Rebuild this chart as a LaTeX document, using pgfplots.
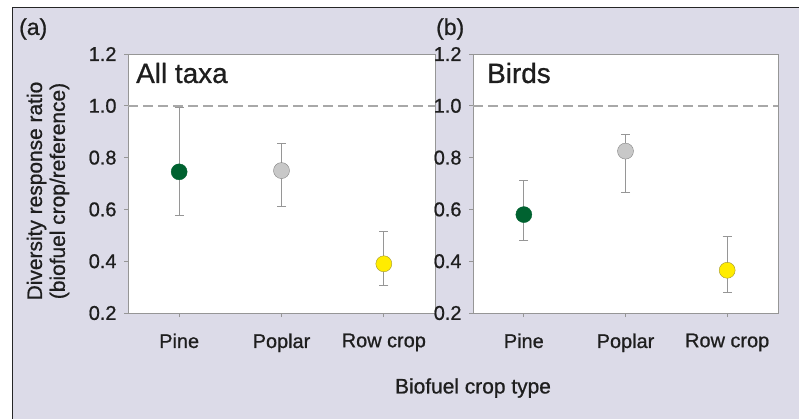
\documentclass[border=0pt]{standalone}
\usepackage{fontspec}
\setmainfont{Liberation Sans}[FakeBold=0.8]
\usepackage{pgfplots}
\pgfplotsset{compat=1.18}
\definecolor{bg}{RGB}{220,219,232}
\definecolor{axgray}{RGB}{150,150,150}
\definecolor{dashgray}{RGB}{168,168,168}
\definecolor{dkgreen}{RGB}{0,98,48}
\definecolor{ltgray}{RGB}{200,200,200}
\definecolor{mkgray}{RGB}{130,130,130}
\definecolor{yel}{RGB}{255,236,0}
\definecolor{yelout}{RGB}{160,150,50}
\definecolor{txt}{RGB}{30,30,30}
\pgfplotsset{
  panel/.style={
    scale only axis, height=259bp,
    xmin=-0.5, xmax=2.5, ymin=0.2, ymax=1.2,
    xtick={0,1,2}, xticklabels={Pine,Poplar,Row crop},
    ytick={0.2,0.4,0.6,0.8,1.0,1.2},
    yticklabel style={xshift=-4bp, /pgf/number format/.cd, fixed, fixed zerofill, precision=1},
    /pgf/number format/assume math mode=true,
    tick align=outside, tick pos=left,
    major tick length=4bp,
    every tick/.style={axgray, line width=0.8bp},
    axis line style={axgray, line width=1bp},
    axis background/.style={fill=white},
    font=\fontsize{20}{24}\selectfont,
    ticklabel style={font=\fontsize{20}{24}\selectfont, text=txt},
    xticklabel style={yshift=-13bp},
    clip=false,
  },
  pt/.style={only marks, mark=*, mark size=8bp,
    error bars/y dir=both, error bars/y explicit,
    error bars/error bar style={axgray, line width=1.1bp},
    error bars/error mark options={rotate=90, mark size=4.5bp, axgray, line width=1.1bp}},
}
\begin{document}
\begin{tikzpicture}[x=1bp,y=1bp]
\path[use as bounding box, fill=white] (0,0) rectangle (799,-419);
\fill[bg] (12,-7) rectangle (799,-419);
\draw[black!85, line width=1bp] (12,-419) -- (12,-7) -- (799,-7);
\begin{axis}[panel, width=307bp, at={(128bp,-54bp)}, anchor=north west]
\addplot[dashgray, line width=2bp, dash pattern=on 10bp off 5bp] coordinates {(-0.5,1) (2.5,1)};
\addplot[pt, mark options={fill=dkgreen, draw=dkgreen}] coordinates {(0,0.745) += (0,0.25) -= (0,0.17)};
\addplot[pt, mark options={fill=ltgray, draw=mkgray}] coordinates {(1,0.75) += (0,0.105) -= (0,0.14)};
\addplot[pt, mark options={fill=yel, draw=yelout}] coordinates {(2,0.39) += (0,0.125) -= (0,0.085)};
\end{axis}
\begin{axis}[panel, width=305bp, at={(473bp,-54bp)}, anchor=north west]
\addplot[dashgray, line width=2bp, dash pattern=on 10bp off 5bp] coordinates {(-0.5,1) (2.5,1)};
\addplot[pt, mark options={fill=dkgreen, draw=dkgreen}] coordinates {(0,0.58) += (0,0.13) -= (0,0.10)};
\addplot[pt, mark options={fill=ltgray, draw=mkgray}] coordinates {(1,0.825) += (0,0.065) -= (0,0.16)};
\addplot[pt, mark options={fill=yel, draw=yelout}] coordinates {(2,0.365) += (0,0.13) -= (0,0.085)};
\end{axis}
\begin{scope}[text=txt]
\node[anchor=west, font=\fontsize{28}{32}\selectfont, inner sep=0] at (136,-73) {All taxa};
\node[anchor=west, font=\fontsize{28}{32}\selectfont, inner sep=0] at (487,-73) {Birds};
\node[anchor=west, font=\fontsize{23}{26}\selectfont, inner sep=0] at (19,-29) {(a)};
\node[anchor=west, font=\fontsize{23}{26}\selectfont, inner sep=0] at (436,-29) {(b)};
\node[rotate=90, align=center, font=\fontsize{21}{23}\selectfont, inner sep=0] at (48,-191) {Diversity response ratio\\(biofuel crop/reference)};
\node[font=\fontsize{21}{24}\selectfont, inner sep=0] at (473,-388) {Biofuel crop type};
\end{scope}
\end{tikzpicture}
\end{document}
